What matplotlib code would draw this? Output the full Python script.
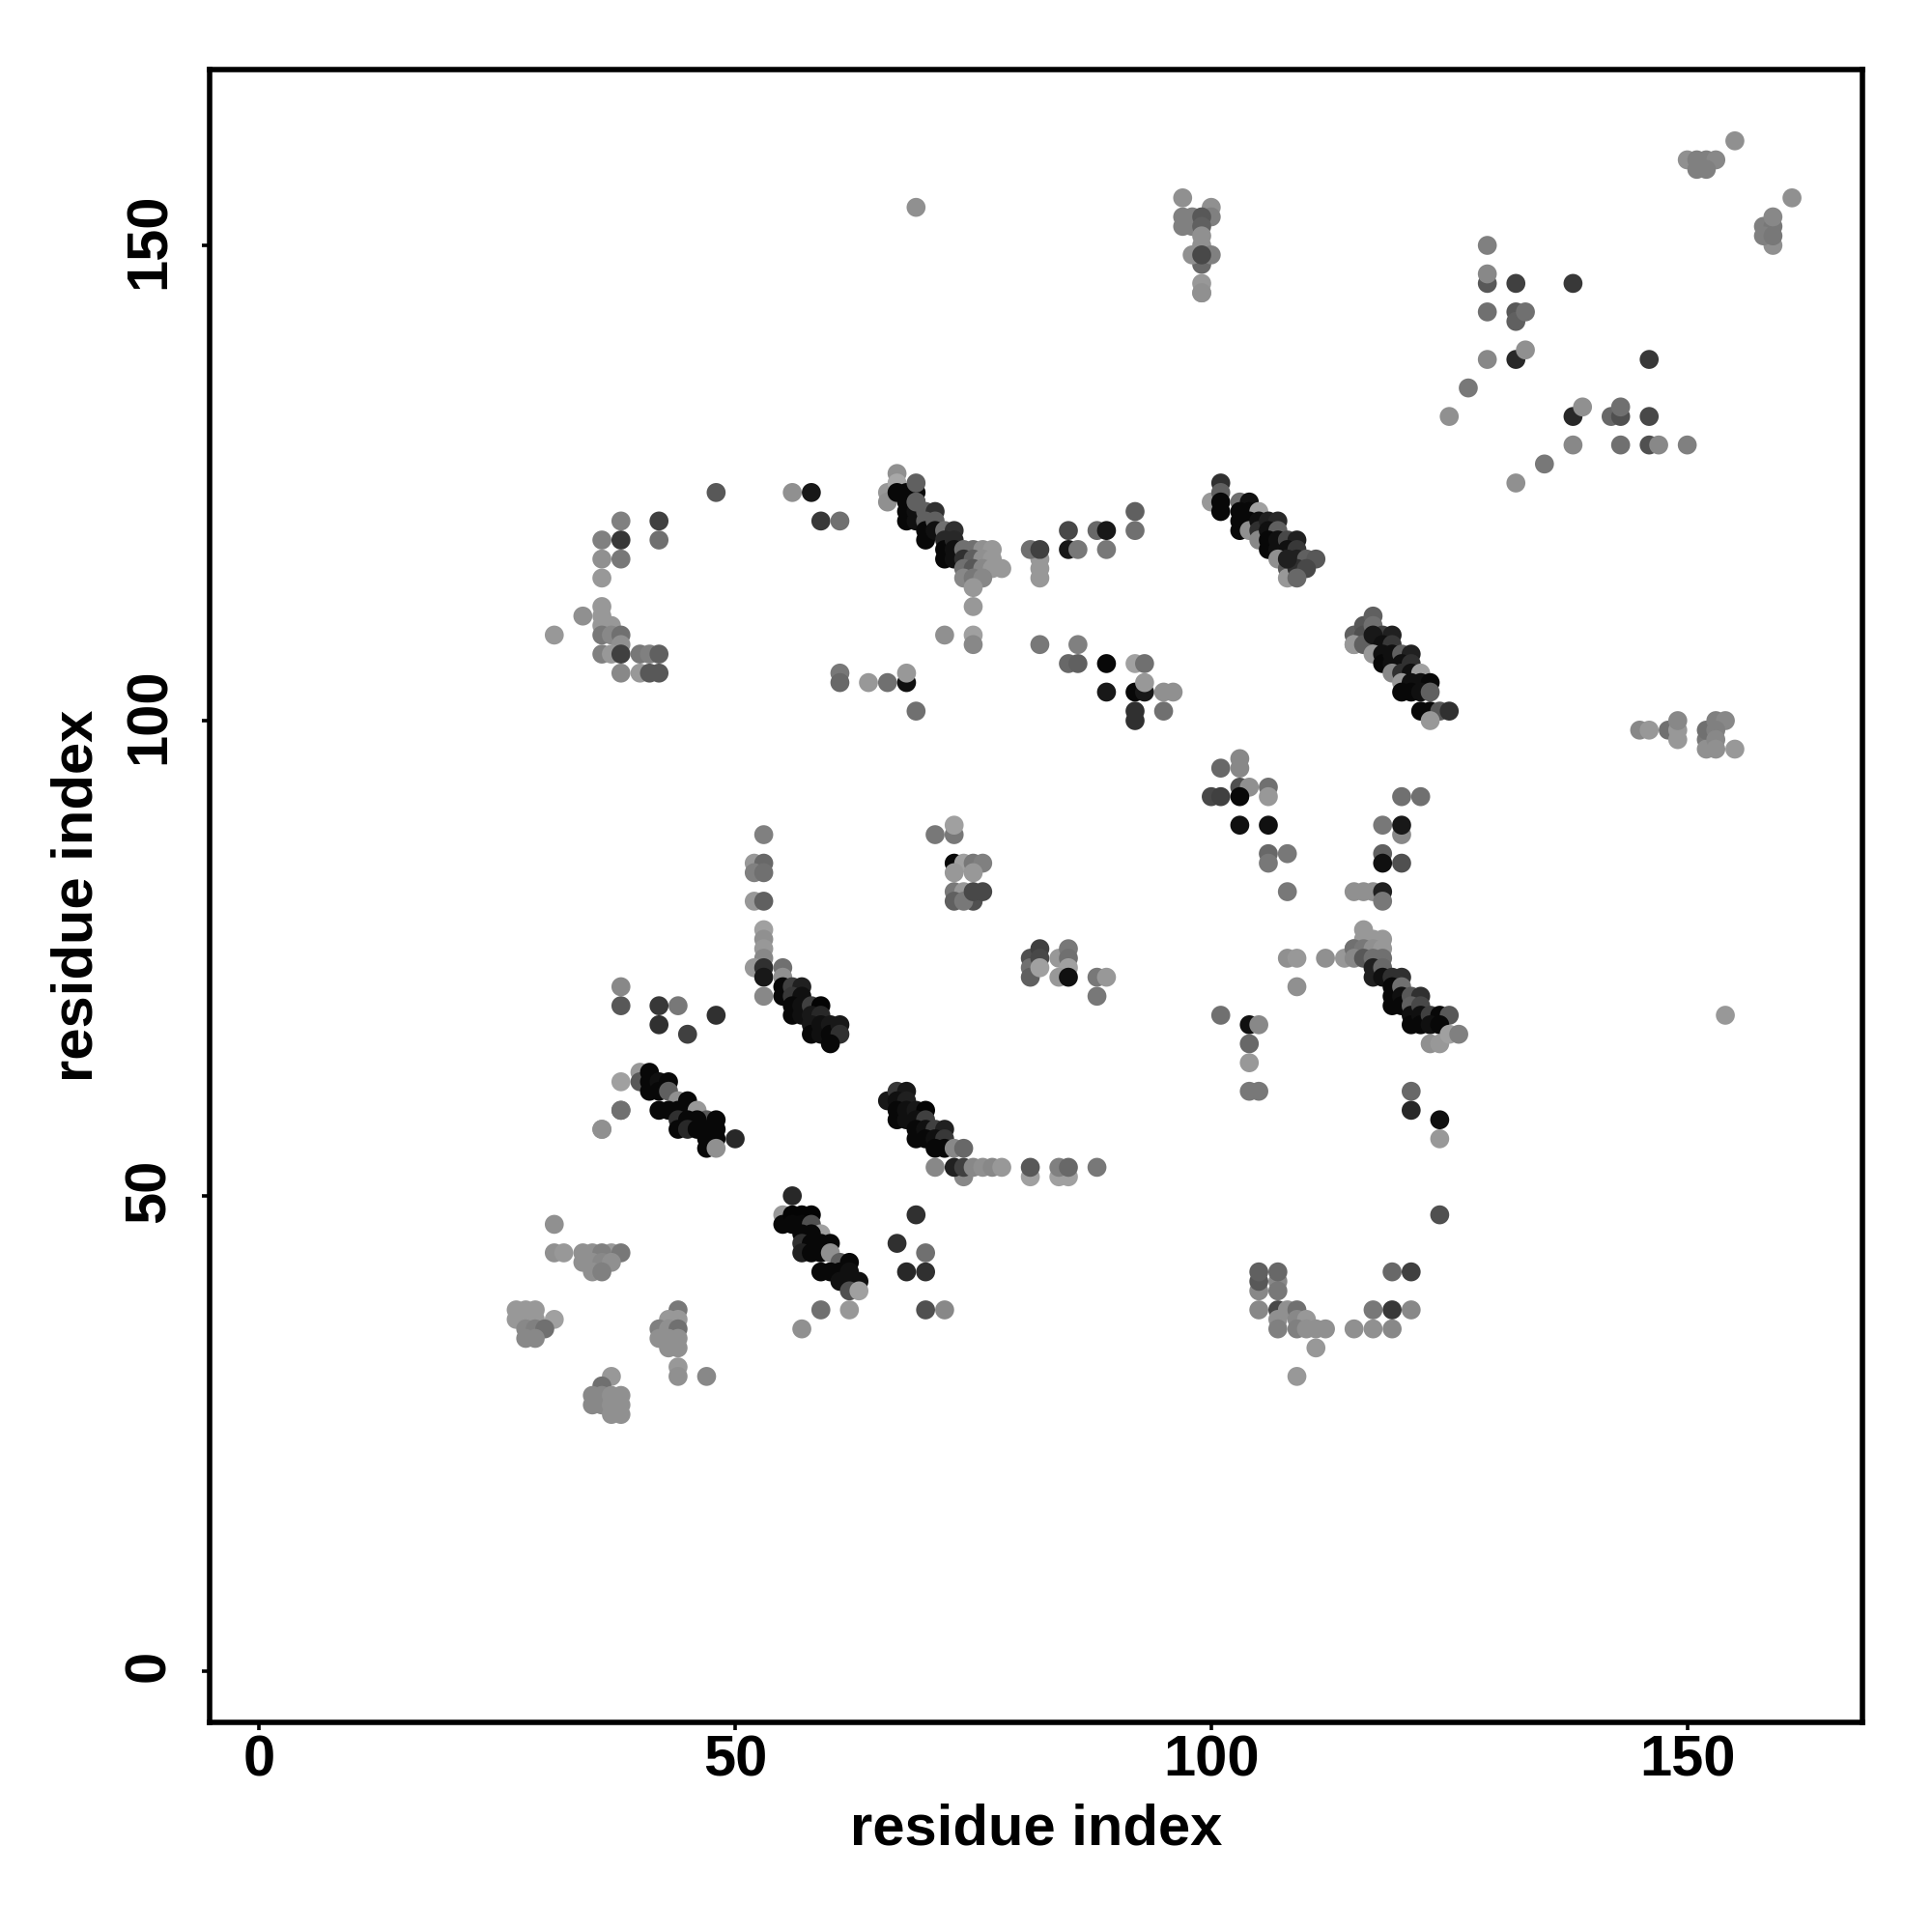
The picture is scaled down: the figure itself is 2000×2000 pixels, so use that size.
import matplotlib
matplotlib.use('Agg')
import matplotlib.pyplot as plt
from matplotlib.transforms import ScaledTranslation

# contact map, points: residue i, residue j, grey level
low_x = [36,38,31,31,32,34,35,37,36,38,34,35,36,37,35,36,27,28,29,27,28,29,31,28,29,30,28,29]
low_y = [57,59,47,44,44,44,44,44,44,44,43,43,43,43,42,42,38,38,38,37,37,37,37,36,36,36,35,35]
low_g = [0x90,0x70,0x90,0x90,0x98,0x90,0x90,0x98,0x80,0x78,0x90,0x90,0x88,0x90,0x90,0x80,0x98,0x98,0x98,0x98,0x98,0x98,0xa0,0x88,0x80,0x70,0x88,0x88]

low2_x = [44,43,44,42,43,44,42,43,44,43,44,44,44,47,37,36,35,35,36,36,37,38,37,38,37,38]
low2_y = [38,37,37,36,36,36,35,35,35,34,34,32,31,31,31,30,29,28,29,28,29,29,28,28,27,27]
low2_g = [0x78,0x98,0x98,0x80,0x90,0x70,0x90,0x90,0x90,0x90,0x90,0x98,0x90,0x88,0x98,0x70,0x88,0x88,0x88,0x88,0x90,0x90,0x90,0x90,0x90,0x90]

b_x = [56,55,55,56,57,58,56,57,58,59,60,57,58,57,58,59,57,58,59,60,61,62,59,60,61,62,61,62,63,62,63]
b_y = [50,48,47,48,48,48,47,47,47,46,45,46,46,45,45,45,44,44,44,44,43,43,42,42,42,42,41,41,41,40,40]
b_g = [0x28,0x98,0x08,0x04,0x04,0x04,0x08,0x08,0x50,0xa0,0x08,0x08,0x08,0x30,0x08,0x08,0x20,0x08,0x08,0x90,0x60,0x08,0x08,0x08,0x08,0x10,0x10,0x10,0x10,0x50,0xa0]

b2_x = [59,62,57,69,67,70,68,70,70,72]
b2_y = [38,38,36,48,45,44,42,42,38,38]
b2_g = [0x70,0x98,0x90,0x30,0x30,0x70,0x28,0x30,0x50,0x88]

c_x = [38,38,42,44,42,45,48,38,40,40,41,41,41,42,43,42,43,44,45,42,43,44,45,46,47,48,44,45,46,44,45,46,47,48,47,48,50,47,48,38,36]
c_y = [72,70,70,70,68,67,69,62,63,62,63,62,61,62,62,61,61,60,60,59,59,59,59,59,58,58,58,58,58,57,57,57,57,57,56,56,56,55,55,59,57]
c_g = [0x88,0x58,0x38,0x78,0x30,0x40,0x30,0xa0,0x98,0x58,0x08,0x08,0x08,0x10,0x08,0x08,0x60,0x90,0x08,0x08,0x08,0x08,0x08,0x98,0x58,0x08,0x30,0x08,0x08,0x08,0x28,0x08,0x08,0x08,0x08,0x08,0x28,0x08,0x90,0x70,0x90]

d_x = [66,67,68,67,68,67,67,68,68,69,70,69,70,69,69,70,71,72,70,71,72,71,72,73,74]
d_y = [60,61,61,60,60,58,59,59,58,59,59,58,58,56,57,57,57,57,56,56,56,55,55,55,55]
d_g = [0x18,0x38,0x18,0x10,0x20,0x08,0x08,0x10,0x10,0x18,0x04,0x10,0x40,0x08,0x08,0x10,0x40,0x20,0x08,0x10,0x38,0x08,0x08,0x88,0x68]

d2_x = [74,81,84,85,71,73,74,75,76,77,78,81,84,85,88]
d2_y = [52,52,52,52,53,53,53,53,53,53,53,53,53,53,53]
d2_g = [0x88,0xa0,0xa0,0xa0,0x88,0x20,0x40,0x88,0x90,0x88,0x98,0x58,0x80,0x68,0x78]

e_x = [53,52,53,52,53,52,53,53,53,53,53,52,53,53,53,55,55,55,55,56,57,56,57,56,56,57,57,58,59,58,59,58,58,59,59,60,60,61,61,60]
e_y = [88,85,85,84,84,81,81,78,77,76,75,74,74,73,71,74,73,72,71,72,72,71,71,70,69,70,69,70,70,69,69,68,67,68,67,68,67,68,67,66]
e_g = [0x80,0x98,0x68,0x80,0x70,0x98,0x60,0xa0,0x90,0x98,0x88,0x98,0x30,0x18,0x88,0x70,0x90,0x08,0x08,0x40,0x20,0x38,0x10,0x08,0x08,0x10,0x10,0x40,0x04,0x18,0x28,0x18,0x08,0x10,0x10,0x18,0x08,0x18,0x30,0x08]

f_x = [71,73,73,73,74,75,76,73,75,73,74,75,76,73,74,75,81,82,81,82,81,82,84,85,85,85,84,85,88,89,88]
f_y = [88,88,89,85,85,85,85,84,84,82,82,81,82,81,81,82,75,76,74,75,73,74,75,76,75,74,73,73,73,73,71]
f_g = [0x78,0x78,0xa0,0x08,0xa0,0x78,0x80,0x98,0x98,0x78,0x98,0x50,0x48,0x60,0x78,0x48,0x50,0x40,0x70,0x48,0x60,0xa0,0x98,0x78,0x70,0xa0,0x98,0x10,0x78,0x98,0x78]

g_x = [56,58,59,61,66,66,67,67,67,68,68,68,68,69,69,69,69,70,71,70,70,70,71,71,72,73,72,72,72,73,73,73,74,75,76,77,74,75,76,77,74,75,76,77,78,74,75,76,75]
g_y = [124,124,121,121,124,123,126,125,124,124,123,122,121,124,123,122,121,122,122,121,120,119,121,120,120,120,119,118,117,119,118,117,118,118,118,118,117,117,117,117,116,116,116,116,116,115,115,115,114]
g_g = [0x90,0x18,0x38,0x70,0x98,0x90,0x90,0xa8,0x08,0x08,0x08,0x08,0x08,0x08,0x30,0x10,0x10,0x60,0x30,0x60,0x08,0x08,0x60,0x10,0x70,0x30,0x28,0x08,0x08,0x28,0x10,0x10,0x70,0x70,0x90,0x98,0x30,0x60,0x90,0x98,0x70,0x58,0x88,0x98,0x98,0x88,0x78,0x88,0x98]
g2_x = [69,69,75,72,75,75,82,81,82,82,82,85,85,86,88,89,89,92,92,82,86,85,86,89,92,93,89,92,93,93,95,96,92,92,95,61,61,64,66,68,68,69]
g2_y = [123,125,112,109,109,108,117,118,118,116,115,120,118,118,120,120,118,122,120,108,108,106,106,106,106,106,103,103,103,104,103,103,101,100,101,105,104,104,104,104,105,101]
g2_g = [0x60,0x60,0x98,0x90,0xa0,0x88,0x98,0x70,0x40,0x98,0x98,0x48,0x18,0x78,0x68,0x18,0x78,0x60,0x70,0x78,0x80,0x68,0x60,0x08,0xa0,0x70,0x18,0x08,0x18,0x98,0x90,0x90,0x30,0x30,0x70,0x78,0x68,0x98,0x70,0x10,0x98,0x70]

h_x = [48,38,42,36,38,42,36,38,36,36,34,36,36,37,31,36,37,38,38,36,37,38,40,41,42,38,40,41,42]
h_y = [124,121,121,119,119,119,117,117,115,112,111,111,110,110,109,109,109,109,108,107,107,107,107,107,107,105,105,105,105]
h_g = [0x58,0x80,0x40,0x80,0x38,0x70,0x90,0x78,0x98,0x98,0x90,0x98,0x98,0x98,0x98,0x78,0x88,0x70,0x90,0x80,0x98,0x40,0x78,0x80,0x60,0x88,0x98,0x58,0x58]

i_x = [100,101,101,101,101,103,104,103,104,105,103,103,104,104,105,105,105,106,107,106,107,106,106,107,107,108,109,108,108,109,107,108,109,110,111,108,109,110,108,109]
i_y = [123,125,124,123,122,123,123,122,122,122,120,121,121,120,121,120,119,121,121,120,120,119,118,119,118,119,119,118,117,118,117,116,117,117,117,115,116,116,117,115]
i_g = [0x98,0x30,0x60,0x08,0x08,0x70,0x10,0x08,0x08,0xa0,0x08,0x08,0x08,0x90,0x10,0x30,0x88,0x20,0x28,0x10,0x60,0x08,0x08,0x10,0x10,0x48,0x20,0x10,0x20,0x38,0x90,0x58,0x20,0x60,0x58,0x98,0x30,0x48,0x20,0x68]

j_x = [115,116,117,115,116,117,118,119,115,116,117,118,119,117,118,118,119,119,120,121,120,121,119,120,121,122,120,121,122,123,120,121,122,123,122,123,124,125,123]
j_y = [109,110,111,108,109,110,109,109,108,108,109,108,108,107,107,106,107,106,107,107,106,106,105,105,105,105,104,104,104,104,103,103,103,103,101,101,101,101,100]
j_g = [0x60,0x58,0x60,0x98,0x50,0x70,0x40,0x20,0x98,0x60,0x18,0x10,0x38,0x98,0x10,0x08,0x10,0x10,0x60,0x20,0x10,0x30,0x88,0x30,0x10,0xa0,0x98,0x10,0x10,0x08,0x08,0x08,0x10,0x60,0x08,0x08,0x58,0x30,0x98]

k_x = [112,114,116,115,116,117,118,115,116,117,118,115,116,117,118,117,117,118,118,119,120,119,119,119,120,120,120,121,122,121,121,121,122,122,122,123,124,125,123,124,123,124,125,126]
k_y = [75,75,78,76,77,77,77,76,76,76,76,75,75,75,75,74,73,74,73,73,73,72,71,70,72,71,70,71,71,70,69,68,70,69,68,69,69,69,68,68,66,66,67,67]
k_g = [0x90,0x98,0x98,0x90,0x98,0x98,0x98,0x70,0x78,0x90,0x98,0x88,0x58,0x70,0x70,0x20,0x20,0x68,0x10,0x30,0x30,0x08,0x08,0x08,0x70,0x10,0x08,0x58,0x30,0x60,0x10,0x08,0x48,0x10,0x08,0x40,0x08,0x58,0x10,0x08,0x90,0x98,0xa0,0x80]

m_x = [108,109,109,101,104,105,104,104,104,105,121,121,124,124,124]
m_y = [75,75,72,69,68,68,66,64,61,61,61,59,58,56,48]
m_g = [0x90,0x98,0x90,0x70,0x10,0x88,0x68,0x98,0x78,0x78,0x68,0x28,0x10,0x98,0x50]

n_x = [105,107,105,107,105,107,105,107,108,109,107,109,110,107,109,110,111,112,111,109,115,117,119,117,119,121,119,121]
n_y = [40,41,41,40,42,42,38,38,38,38,37,37,37,36,36,36,36,36,34,31,36,36,36,38,38,38,42,42]
n_g = [0x88,0x88,0x58,0x78,0x60,0x68,0x88,0x48,0x90,0x70,0x90,0x88,0x98,0x80,0x80,0x90,0x90,0x90,0x98,0x98,0x90,0x90,0x88,0x78,0x38,0x88,0x68,0x40]

o_x = [101,103,103,100,101,103,104,106,103,106,103,106,106,108,106,108,120,122,118,120,120,118,118,120,115,116,117,118,118]
o_y = [95,96,95,92,92,93,93,93,92,92,89,89,86,86,85,82,92,92,89,88,89,86,85,85,82,82,82,82,81]
o_g = [0x68,0x88,0x88,0x48,0x40,0x50,0x90,0x70,0x08,0x98,0x10,0x10,0x68,0x78,0x78,0x78,0x70,0x70,0x78,0x88,0x18,0x60,0x10,0x50,0x90,0x90,0x90,0x20,0x78]

q_x = [145,146,148,149,149,149,152,152,152,153,154,153,153,153,155,154,69]
q_y = [99,99,99,99,98,100,98,97,99,100,100,99,98,97,97,69,154]
q_g = [0x88,0x98,0x70,0x98,0x98,0x88,0x78,0x90,0x70,0x80,0x88,0x80,0x88,0x90,0x98,0x98,0x90]

r_x = [97,97,97,98,98,100,100,99,99,99,99,99,98,100,99,99,99,99]
r_y = [155,153,152,153,152,154,153,153,152,151,150,148,149,149,149,146,145,145]
r_g = [0x90,0x80,0x80,0x80,0x80,0x90,0x80,0x58,0x60,0x90,0x90,0x68,0x90,0x80,0x48,0x98,0x90,0x90]

s_x = [155,150,151,152,153,151,152,161,159,158,159,158,159,159]
s_y = [161,159,159,159,159,158,158,155,150,152,152,151,151,153]
s_g = [0x90,0x90,0x80,0x80,0x88,0x80,0x80,0x90,0x90,0x80,0x78,0x80,0x78,0x88]

t_x = [129,129,129,132,138,129,132,132,133,129,132,133,146,127,125,138,139,142,143,143,146,138,143,146,147,150,135,132]
t_y = [150,146,147,146,146,143,143,142,143,138,138,139,138,135,132,132,133,132,132,133,132,129,129,129,129,129,127,125]
t_g = [0x80,0x58,0x88,0x40,0x38,0x70,0x58,0x60,0x70,0x88,0x28,0x90,0x38,0x78,0x90,0x28,0x90,0x68,0x50,0x70,0x48,0x88,0x70,0x50,0x88,0x80,0x78,0x90]

tick_vals = [0, 50, 100, 150]

all_x = low_x+low2_x+b_x+b2_x+c_x+d_x+d2_x+e_x+f_x+g_x+g2_x+h_x+i_x+j_x+k_x+m_x+n_x+o_x+q_x+r_x+s_x+t_x
all_y = low_y+low2_y+b_y+b2_y+c_y+d_y+d2_y+e_y+f_y+g_y+g2_y+h_y+i_y+j_y+k_y+m_y+n_y+o_y+q_y+r_y+s_y+t_y
all_g = low_g+low2_g+b_g+b2_g+c_g+d_g+d2_g+e_g+f_g+g_g+g2_g+h_g+i_g+j_g+k_g+m_g+n_g+o_g+q_g+r_g+s_g+t_g

plt.rcParams['font.family'] = ['Liberation Sans', 'DejaVu Sans']

fig = plt.figure(figsize=(10, 10), dpi=200)
ax = fig.add_axes([217/2000, 217/2000, 1711/2000, 1711/2000])

cols = [(g/255, g/255, g/255) for g in all_g]
ax.scatter(all_x, all_y, c=cols, s=50, linewidths=0, zorder=3)

ax.set_xlim(-5.2, 168.4)
ax.set_ylim(-5.4, 168.5)
ax.set_xticks(tick_vals)
ax.set_yticks(tick_vals)
ax.tick_params(axis='both', length=3, width=1.3, labelsize=21.5)
ax.tick_params(axis='x', pad=1.4)
ax.tick_params(axis='y', pad=9.4)
for lab in ax.get_xticklabels():
    lab.set_fontweight('bold')
for lab in ax.get_yticklabels():
    lab.set_fontweight('bold')
    lab.set_rotation(90)
    lab.set_va('center')
    lab.set_transform(lab.get_transform() + ScaledTranslation(0, 1.8/72, fig.dpi_scale_trans))
for sp in ax.spines.values():
    sp.set_linewidth(2.0)

ax.set_xlabel('residue index', fontsize=21.5, fontweight='bold', labelpad=5.7)
ax.set_ylabel('residue index', fontsize=21.5, fontweight='bold', labelpad=7.3)

fig.savefig('out.png', dpi=200)
